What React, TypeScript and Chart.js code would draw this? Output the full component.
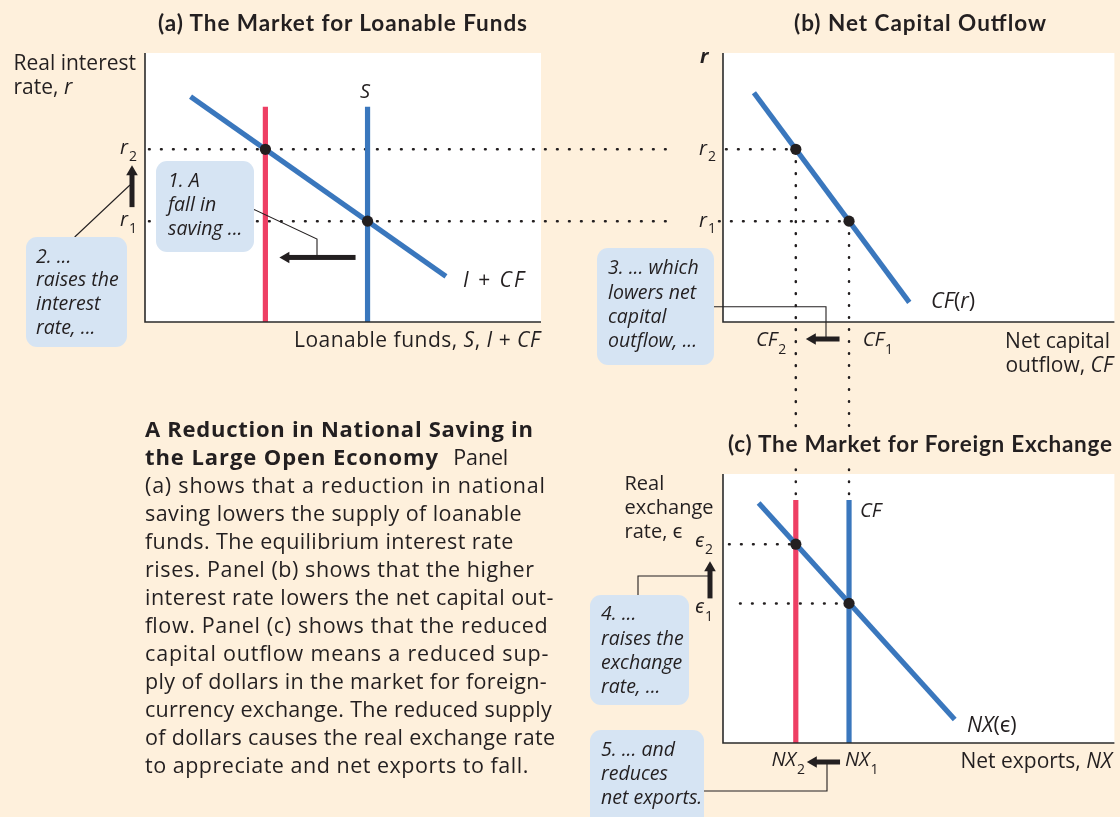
import React, { useEffect, useRef } from 'react';
import { Chart, registerables } from 'chart.js';

Chart.register(...registerables);

// ---------- data (abstract diagram units, 0–100 on every axis) ----------
// Panel (a): market for loanable funds
const rateLevels = [37.5, 64.2]; // r1, r2
const savingSupply = [56.2, 30.4]; // S before and after the fall in saving
const savingTop = 80.0;
const investCfQty = [11.5, 76.0]; // I + CF demand curve, endpoints
const investCfRate = [83.8, 17.0];
const shiftArrowRate = 24; // height of the leftward shift arrow

// Panel (b): net capital outflow
const capitalOutflow = [32.2, 18.6]; // CF1, CF2
const cfCurveQty = [7.9, 47.6]; // CF(r) endpoints
const cfCurveRate = [85.2, 7.3];

// Panel (c): market for foreign-currency exchange
const exchangeRates = [51.9, 73.9]; // ϵ1, ϵ2
const netExports = [32.2, 18.6]; // NX1, NX2 (vertical CF supply lines)
const nxCurveQty = [9.1, 59.2]; // NX(ϵ) endpoints
const nxCurveRate = [89.2, 8.7];
const dollarSupplyTop = 90.3;

// ---------- layout & style ----------
const W = 1120;
const H = 817;
const PANEL_A = { left: 145, top: 53, right: 541, bottom: 322 };
const PANEL_B = { left: 723, top: 53, right: 1120, bottom: 322 };
const PANEL_C = { left: 723, top: 474, right: 1120, bottom: 743 };

const CREAM = '#FEF0DC';
const INK = '#231F20';
const BLUE = '#3A77BD';
const RED = '#EE3F64';
const NOTE = '#D6E4F3';
const SANS = "'Open Sans', 'Noto Sans', sans-serif";
const HEAD = "Lato, 'Open Sans', sans-serif";

type Area = { left: number; top: number; right: number; bottom: number };

function pts(xs: number[], ys: number[]) {
  return xs.map((x, i) => ({ x, y: ys[i] }));
}

function curve(data: { x: number; y: number }[], color: string) {
  return {
    data,
    showLine: true,
    borderColor: color,
    borderWidth: 5.2,
    borderCapStyle: 'butt' as const,
    pointRadius: 0,
    pointHoverRadius: 0,
  };
}

function dotsSet(data: { x: number; y: number }[]) {
  return {
    data,
    showLine: false,
    pointRadius: 5.6,
    pointHoverRadius: 5.6,
    pointBackgroundColor: INK,
    pointBorderWidth: 0,
  };
}

function dotted(ctx: CanvasRenderingContext2D, x1: number, y1: number, x2: number, y2: number) {
  ctx.save();
  ctx.strokeStyle = INK;
  ctx.lineWidth = 2.5;
  ctx.lineCap = 'round';
  ctx.setLineDash([0.7, 11.3]);
  ctx.beginPath();
  ctx.moveTo(x1, y1);
  ctx.lineTo(x2, y2);
  ctx.stroke();
  ctx.restore();
}

function arrow(ctx: CanvasRenderingContext2D, x1: number, y1: number, x2: number, y2: number) {
  const ang = Math.atan2(y2 - y1, x2 - x1);
  const len = Math.hypot(x2 - x1, y2 - y1);
  const head = 10;
  const half = 5.8;
  const shaft = 5;
  ctx.save();
  ctx.translate(x2, y2);
  ctx.rotate(ang);
  ctx.fillStyle = INK;
  ctx.fillRect(-len, -shaft / 2, len - head + 1, shaft);
  ctx.beginPath();
  ctx.moveTo(0, 0);
  ctx.lineTo(-head, -half);
  ctx.lineTo(-head, half);
  ctx.closePath();
  ctx.fill();
  ctx.restore();
}

function frame(ctx: CanvasRenderingContext2D, a: Area) {
  ctx.save();
  ctx.strokeStyle = '#2B2B2B';
  ctx.lineWidth = 1.6;
  ctx.beginPath();
  ctx.moveTo(a.left, a.top);
  ctx.lineTo(a.left, a.bottom);
  ctx.lineTo(a.right, a.bottom);
  ctx.stroke();
  ctx.restore();
}

function buildPanel(
  canvas: HTMLCanvasElement,
  area: Area,
  datasets: any[],
  guides: (c: Chart) => void,
  extras: (c: Chart) => void
) {
  return new Chart(canvas, {
    type: 'scatter',
    data: { datasets },
    options: {
      responsive: false,
      maintainAspectRatio: false,
      animation: false,
      devicePixelRatio: 1,
      events: [],
      layout: {
        padding: { left: area.left, top: area.top, right: W - area.right, bottom: H - area.bottom },
      },
      scales: {
        x: { type: 'linear', min: 0, max: 100, display: false },
        y: { type: 'linear', min: 0, max: 100, display: false },
      },
      plugins: { legend: { display: false }, tooltip: { enabled: false } },
    },
    plugins: [
      {
        id: 'panelDecor',
        beforeDatasetsDraw(chart: Chart) {
          const { ctx, chartArea: ca } = chart;
          ctx.save();
          ctx.fillStyle = '#FFFFFF';
          ctx.fillRect(ca.left, ca.top, ca.right - ca.left, ca.bottom - ca.top);
          ctx.restore();
          guides(chart);
        },
        afterDatasetsDraw(chart: Chart) {
          frame(chart.ctx, chart.chartArea as Area);
          extras(chart);
        },
      },
    ],
  });
}

function buildA(canvas: HTMLCanvasElement) {
  const [r1, r2] = rateLevels;
  const [s1, s2] = savingSupply;
  return buildPanel(
    canvas,
    PANEL_A,
    [
      dotsSet([
        { x: s2, y: r2 },
        { x: s1, y: r1 },
      ]),
      curve(pts(investCfQty, investCfRate), BLUE),
      curve([{ x: s1, y: 0 }, { x: s1, y: savingTop }], BLUE),
      curve([{ x: s2, y: 0 }, { x: s2, y: savingTop }], RED),
    ],
    (c) => {
      const y = c.scales.y;
      const left = c.chartArea.left;
      // r1 and r2 run across to the net capital outflow panel
      [r1, r2].forEach((r) => dotted(c.ctx, left + 4, y.getPixelForValue(r), PANEL_B.left - 49, y.getPixelForValue(r)));
    },
    (c) => {
      const x = c.scales.x;
      const y = c.scales.y;
      const ca = c.chartArea;
      arrow(c.ctx, ca.left - 13, y.getPixelForValue(r1) - 14, ca.left - 13, y.getPixelForValue(r2) + 16);
      const ay = y.getPixelForValue(shiftArrowRate);
      arrow(c.ctx, x.getPixelForValue(s1) - 12, ay, x.getPixelForValue(s2) + 14, ay);
    }
  );
}

function buildB(canvas: HTMLCanvasElement) {
  const [r1, r2] = rateLevels;
  const [cf1, cf2] = capitalOutflow;
  return buildPanel(
    canvas,
    PANEL_B,
    [
      dotsSet([
        { x: cf2, y: r2 },
        { x: cf1, y: r1 },
      ]),
      curve(pts(cfCurveQty, cfCurveRate), BLUE),
    ],
    (c) => {
      const x = c.scales.x;
      const y = c.scales.y;
      const left = c.chartArea.left;
      dotted(c.ctx, left + 3, y.getPixelForValue(r2), x.getPixelForValue(cf2), y.getPixelForValue(r2));
      dotted(c.ctx, left - 4, y.getPixelForValue(r1), x.getPixelForValue(cf1), y.getPixelForValue(r1));
      // CF1 and CF2 drop down toward the foreign-exchange panel
      dotted(c.ctx, x.getPixelForValue(cf2), y.getPixelForValue(r2), x.getPixelForValue(cf2), PANEL_C.top - 46);
      dotted(c.ctx, x.getPixelForValue(cf1), y.getPixelForValue(r1), x.getPixelForValue(cf1), PANEL_C.top - 46);
    },
    (c) => {
      const x = c.scales.x;
      const ay = c.chartArea.bottom + 17;
      arrow(c.ctx, x.getPixelForValue(cf1) - 9.5, ay, x.getPixelForValue(cf2) + 10, ay);
    }
  );
}

function buildC(canvas: HTMLCanvasElement) {
  const [e1, e2] = exchangeRates;
  const [nx1, nx2] = netExports;
  return buildPanel(
    canvas,
    PANEL_C,
    [
      dotsSet([
        { x: nx2, y: e2 },
        { x: nx1, y: e1 },
      ]),
      curve(pts(nxCurveQty, nxCurveRate), BLUE),
      curve([{ x: nx1, y: 0 }, { x: nx1, y: dollarSupplyTop }], BLUE),
      curve([{ x: nx2, y: 0 }, { x: nx2, y: dollarSupplyTop }], RED),
    ],
    (c) => {
      const x = c.scales.x;
      const y = c.scales.y;
      const left = c.chartArea.left;
      const top = y.getPixelForValue(dollarSupplyTop) - 6;
      dotted(c.ctx, x.getPixelForValue(nx2), top, x.getPixelForValue(nx2), PANEL_C.top - 12);
      dotted(c.ctx, x.getPixelForValue(nx1), top, x.getPixelForValue(nx1), PANEL_C.top - 12);
      dotted(c.ctx, left + 6, y.getPixelForValue(e2), x.getPixelForValue(nx2), y.getPixelForValue(e2));
      dotted(c.ctx, left + 17, y.getPixelForValue(e1), x.getPixelForValue(nx1), y.getPixelForValue(e1));
    },
    (c) => {
      const x = c.scales.x;
      const y = c.scales.y;
      const ca = c.chartArea;
      arrow(c.ctx, ca.left - 13, y.getPixelForValue(e1) - 5, ca.left - 13, y.getPixelForValue(e2) + 17);
      const ay = ca.bottom + 19;
      arrow(c.ctx, x.getPixelForValue(nx1) - 9, ay, x.getPixelForValue(nx2) + 11, ay);
    }
  );
}

// ---------- text helpers ----------
type TP = {
  x: number;
  y: number;
  size?: number;
  italic?: boolean;
  weight?: number;
  anchor?: 'start' | 'end' | 'middle';
  len?: number;
  family?: string;
  children: React.ReactNode;
};

function T({ x, y, size = 21, italic, weight = 400, anchor = 'start', len, family = SANS, children }: TP) {
  return (
    <text
      x={x}
      y={y}
      fontFamily={family}
      fontSize={size}
      fontStyle={italic ? 'italic' : 'normal'}
      fontWeight={weight}
      textAnchor={anchor}
      fill={INK}
      textLength={len}
      lengthAdjust={len ? 'spacing' : undefined}
    >
      {children}
    </text>
  );
}

const I = ({ children }: { children: React.ReactNode }) => <tspan fontStyle="italic">{children}</tspan>;

// symbol with a numeric subscript, e.g. r₂, CF₁, ϵ₂, NX₁
function Sub({ x, y, sym, idx, dy = 7 }: { x: number; y: number; sym: string; idx: string; dy?: number }) {
  return (
    <text x={x} y={y} fontFamily={SANS} fontSize={20} fontStyle="italic" fill={INK}>
      {sym}
      <tspan fontStyle="normal" fontSize={14} dx={1} dy={dy}>
        {idx}
      </tspan>
    </text>
  );
}

function Note({ x, y, w, h, tx, lines }: { x: number; y: number; w: number; h: number; tx: number; lines: [string, number][] }) {
  return (
    <g>
      <rect x={x} y={y} width={w} height={h} rx={11} ry={11} fill={NOTE} />
      {lines.map(([s, by], i) => (
        <T key={i} x={tx} y={by} size={19.5} italic>
          {s}
        </T>
      ))}
    </g>
  );
}

const caption: [string, number, number][] = [
  ['(a) shows that a reduction in national', 493.3, 400],
  ['saving lowers the supply of loanable', 521.3, 376.7],
  ['funds. The equilibrium interest rate', 549.3, 368.3],
  ['rises. Panel (b) shows that the higher', 577.3, 389],
  ['interest rate lowers the net capital out-', 605.3, 408.3],
  ['flow. Panel (c) shows that the reduced', 633.3, 402.7],
  ['capital outflow means a reduced sup-', 661.3, 403.3],
  ['ply of dollars in the market for foreign-', 689.3, 401.7],
  ['currency exchange. The reduced supply', 717.3, 406.7],
  ['of dollars causes the real exchange rate', 745.3, 410],
  ['to appreciate and net exports to fall.', 773.3, 383.3],
];

export default function App() {
  const aRef = useRef<HTMLCanvasElement>(null);
  const bRef = useRef<HTMLCanvasElement>(null);
  const cRef = useRef<HTMLCanvasElement>(null);

  useEffect(() => {
    const charts = [buildA(aRef.current!), buildB(bRef.current!), buildC(cRef.current!)];
    return () => charts.forEach((c) => c.destroy());
  }, []);

  const canvasStyle: React.CSSProperties = { position: 'absolute', left: 0, top: 0, width: W, height: H, display: 'block' };

  return (
    <div style={{ position: 'absolute', left: 0, top: 0, width: W, height: H, background: CREAM, overflow: 'hidden' }}>
      <canvas ref={aRef} width={W} height={H} style={canvasStyle} />
      <canvas ref={bRef} width={W} height={H} style={canvasStyle} />
      <canvas ref={cRef} width={W} height={H} style={canvasStyle} />
      <svg width={W} height={H} viewBox={`0 0 ${W} ${H}`} style={{ position: 'absolute', left: 0, top: 0 }}>
        {/* panel titles */}
        <T x={158} y={31} size={22.5} weight={700} family={HEAD} len={369}>
          (a) The Market for Loanable Funds
        </T>
        <T x={794} y={31} size={22.5} weight={700} family={HEAD} len={252}>
          (b) Net Capital Outflow
        </T>
        <T x={728} y={452} size={22.5} weight={700} family={HEAD} len={384}>
          (c) The Market for Foreign Exchange
        </T>

        {/* panel (a) axes and labels */}
        <T x={13.5} y={69.5}>Real interest</T>
        <T x={13.5} y={94}>
          rate, <I>r</I>
        </T>
        <T x={540} y={347} anchor="end" len={246}>
          Loanable funds, <I>S</I>, <I>I</I> + <I>CF</I>
        </T>
        <T x={360} y={98} size={20} italic>
          S
        </T>
        <T x={463} y={287} len={61}>
          <I>I</I> + <I>CF</I>
        </T>
        <Sub x={120} y={154} sym="r" idx="2" />
        <Sub x={120} y={225.5} sym="r" idx="1" />

        {/* panel (b) */}
        <T x={700} y={62.7} size={20} italic weight={700}>
          r
        </T>
        <Sub x={699} y={155} sym="r" idx="2" dy={6} />
        <Sub x={699} y={226.5} sym="r" idx="1" dy={6} />
        <T x={931} y={308} size={21.5}>
          <I>CF</I>(<I>r</I>)
        </T>
        <Sub x={756} y={346} sym="CF" idx="2" dy={8} />
        <Sub x={862.7} y={346} sym="CF" idx="1" dy={8} />
        <T x={1110} y={348} anchor="end">
          Net capital
        </T>
        <T x={1113} y={372} anchor="end">
          outflow, <I>CF</I>
        </T>

        {/* panel (c) */}
        <T x={624.5} y={490} size={20}>
          Real
        </T>
        <T x={624.5} y={514} size={20}>
          exchange
        </T>
        <T x={624.5} y={538.3} size={20}>
          rate, ϵ
        </T>
        <Sub x={695} y={547} sym="ϵ" idx="2" />
        <Sub x={695} y={612.7} sym="ϵ" idx="1" dy={8} />
        <T x={860} y={517} size={20} italic>
          CF
        </T>
        <T x={967} y={732} size={21.5}>
          <I>NX</I>(ϵ)
        </T>
        <Sub x={771.5} y={766} sym="NX" idx="2" dy={8} />
        <Sub x={845} y={766} sym="NX" idx="1" dy={8} />
        <T x={1112} y={768.3} anchor="end">
          Net exports, <I>NX</I>
        </T>

        {/* leader lines from the notes */}
        <g stroke={INK} strokeWidth={1.1} fill="none">
          <path d="M74.7 237 L130 185" />
          <path d="M254 209.5 L317 239 L317 257" />
          <path d="M714 306.7 H826 V339" />
          <path d="M638 595 V576 H710" />
          <path d="M704 791 H827 V762" />
        </g>

        {/* numbered notes */}
        <Note x={156} y={161} w={98} h={91} tx={168} lines={[['1. A', 186.7], ['fall in', 211], ['saving ...', 235]]} />
        <Note
          x={26}
          y={237}
          w={101}
          h={110}
          tx={36}
          lines={[['2. ...', 262.7], ['raises the', 285.7], ['interest', 310], ['rate, ...', 334]]}
        />
        <Note
          x={597}
          y={248}
          w={117}
          h={117}
          tx={608}
          lines={[['3. ... which', 274.3], ['lowers net', 299.3], ['capital', 323.3], ['outflow, ...', 347.3]]}
        />
        <Note
          x={590}
          y={595}
          w={99}
          h={110}
          tx={601}
          lines={[['4. ...', 620], ['raises the', 645], ['exchange', 669.3], ['rate, ...', 693.3]]}
        />
        <Note x={590} y={730} w={114} h={100} tx={601} lines={[['5. ... and', 756], ['reduces', 780], ['net exports.', 804]]} />

        {/* figure caption */}
        <T x={145} y={437.3} size={22} weight={700} len={388}>
          A Reduction in National Saving in
        </T>
        <T x={145} y={465.3} size={22} weight={700} len={293}>
          the Large Open Economy
        </T>
        <T x={453.3} y={465.3} size={21.5} len={55}>
          Panel
        </T>
        {caption.map(([s, y, len], i) => (
          <T key={i} x={145} y={y} size={21.5} len={len}>
            {s}
          </T>
        ))}
      </svg>
    </div>
  );
}
